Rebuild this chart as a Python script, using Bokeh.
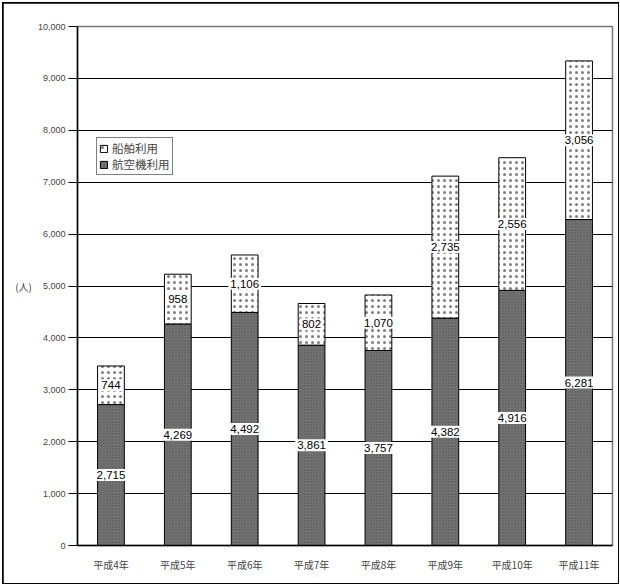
from bokeh.plotting import figure
from bokeh.models import (ColumnDataSource, Legend, LegendItem,
                          NumeralTickFormatter, FixedTicker, Range1d, FactorRange)
from bokeh.core.properties import value
from bokeh.embed import file_html
from bokeh.resources import INLINE

years = ["平成4年", "平成5年", "平成6年", "平成7年", "平成8年", "平成9年", "平成10年", "平成11年"]
air = [2715, 4269, 4492, 3861, 3757, 4382, 4916, 6281]
ship = [744, 958, 1106, 802, 1070, 2735, 2556, 3056]
y_ticks = [0, 1000, 2000, 3000, 4000, 5000, 6000, 7000, 8000, 9000, 10000]

total = [a + s for a, s in zip(air, ship)]
src = ColumnDataSource(dict(
    x=years, air=air, ship=ship, total=total,
    air_mid=[a / 2 for a in air],
    ship_mid=[a + s / 2 for a, s in zip(air, ship)],
    air_txt=[f"{a:,}" for a in air],
    ship_txt=[f"{s:,}" for s in ship],
))

p = figure(x_range=FactorRange(*years, range_padding=0), y_range=Range1d(0, 10000),
           width=615, height=580,
           min_border_left=74, min_border_right=6, min_border_top=23, min_border_bottom=38,
           output_backend="svg", toolbar_location=None)
p.styles = {"margin-left": "3px", "margin-top": "3px",
            "outline": "2px solid black", "outline-offset": "-1px"}

p.outline_line_color = "#777777"
p.outline_line_width = 1.5
p.xgrid.grid_line_color = None
p.ygrid.grid_line_color = "black"
p.ygrid.grid_line_width = 1
p.ygrid.bounds = (0, 9999)

p.yaxis.ticker = FixedTicker(ticks=y_ticks)
p.yaxis.formatter = NumeralTickFormatter(format="0,0")
p.yaxis.major_tick_out = 9
p.yaxis.major_tick_in = 0
p.yaxis.minor_tick_line_color = None
p.yaxis.major_label_standoff = 3
p.yaxis.major_label_text_font = "Liberation Sans"
p.yaxis.major_label_text_font_size = "9px"
p.yaxis.axis_line_color = "black"
p.yaxis.axis_line_width = 1.5
p.yaxis.axis_label = "(人)"
p.yaxis.axis_label_orientation = "horizontal"
p.yaxis.axis_label_standoff = 3
p.yaxis.axis_label_text_font = "Noto Sans CJK JP"
p.yaxis.axis_label_text_font_size = "10px"
p.yaxis.axis_label_text_font_style = "normal"

p.xaxis.major_tick_line_color = None
p.xaxis.minor_tick_line_color = None
p.xaxis.axis_line_color = "black"
p.xaxis.axis_line_width = 1.5
p.xaxis.major_label_text_font = "Noto Sans CJK JP"
p.xaxis.major_label_text_font_size = "10px"
p.xaxis.major_label_standoff = 5

r_air = p.vbar(x="x", bottom=0, top="air", width=0.4, source=src,
               fill_color="#777777", line_color="black", line_width=1,
               hatch_pattern="diagonal_cross", hatch_scale=3, hatch_color="black",
               hatch_alpha=0.3, hatch_weight=0.5)
r_ship = p.vbar(x="x", bottom="air", top="total", width=0.4, source=src,
                fill_color="white", line_color="black", line_width=1,
                hatch_pattern="dot", hatch_scale=6, hatch_color="black",
                hatch_weight=0.25, hatch_alpha=0.5)

for col, ycol in (("air_txt", "air_mid"), ("ship_txt", "ship_mid")):
    p.text(x="x", y=ycol, text=col, source=src,
           text_align="center", text_baseline="middle",
           text_font=value("Liberation Sans"), text_font_size="11.5px",
           text_color="black", background_fill_color="white",
           padding=2)

legend = Legend(items=[LegendItem(label="船舶利用", renderers=[r_ship]),
                       LegendItem(label="航空機利用", renderers=[r_air])],
                location=(19, 370), label_text_font="Noto Sans CJK JP",
                label_text_font_size="11.5px", glyph_width=9, glyph_height=9,
                label_height=10, label_standoff=4, spacing=0, padding=2, margin=0,
                border_line_color="black", border_line_width=1.2,
                background_fill_color="white", background_fill_alpha=1)
p.add_layout(legend)

open("out.html", "w").write(file_html(p, INLINE))
